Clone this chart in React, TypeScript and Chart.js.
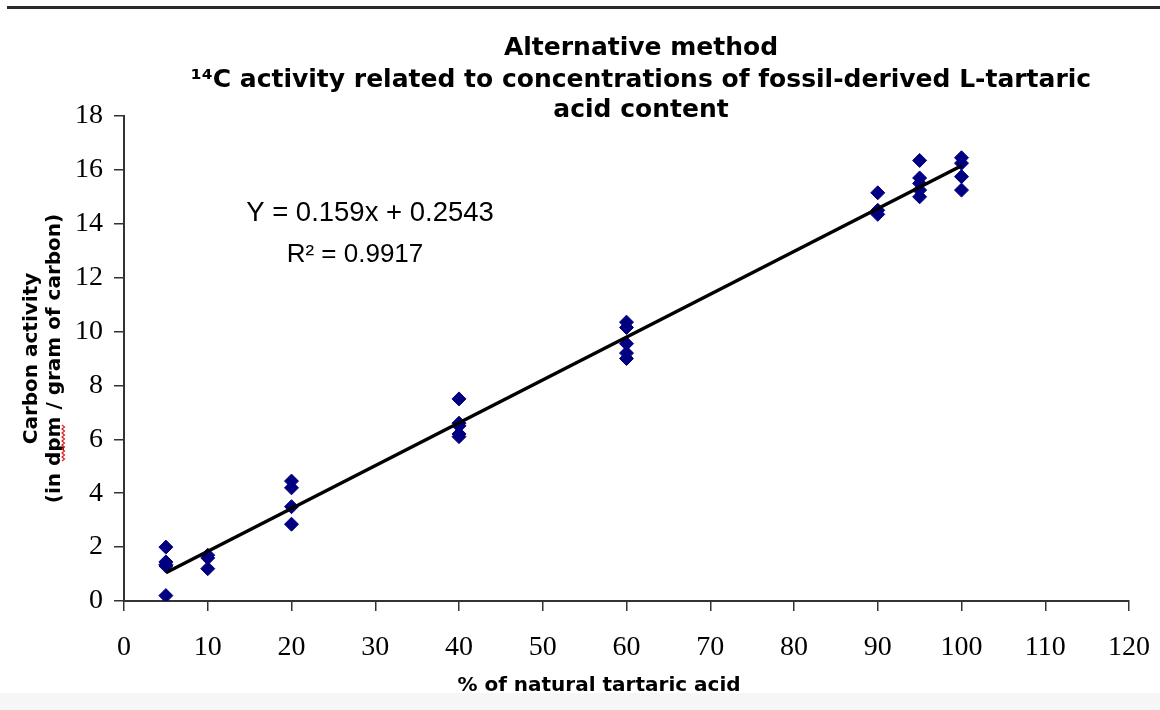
import React, { useEffect, useRef } from "react";
import { Chart, registerables } from "chart.js";

Chart.register(...registerables);

// ---- data ----
const xTickValues = [0, 10, 20, 30, 40, 50, 60, 70, 80, 90, 100, 110, 120];
const yTickValues = [0, 2, 4, 6, 8, 10, 12, 14, 16, 18];

const sampleX = [
  5, 5, 5, 5, 5,
  10, 10, 10,
  20, 20, 20, 20,
  40, 40, 40, 40, 40,
  60, 60, 60, 60, 60,
  90, 90, 90,
  95, 95, 95, 95, 95,
  100, 100, 100, 100,
];
const sampleY = [
  2.0, 1.45, 1.35, 1.3, 0.2,
  1.7, 1.6, 1.2,
  4.45, 4.2, 3.5, 2.85,
  7.5, 6.6, 6.5, 6.2, 6.1,
  10.35, 10.15, 9.55, 9.2, 9.0,
  15.15, 14.5, 14.35,
  16.35, 15.7, 15.5, 15.25, 15.0,
  16.45, 16.25, 15.75, 15.25,
];

const trendX = [5, 100];
const slope = 0.159;
const intercept = 0.2543;

const titleLines = [
  "Alternative method",
  "¹⁴C activity related to concentrations of fossil-derived L-tartaric",
  "acid content",
];
const equationText = "Y = 0.159x + 0.2543";
const r2Text = "R² = 0.9917";
const xTitle = "% of natural tartaric acid";
const yTitle = ["Carbon activity", "(in dpm / gram of carbon)"];

const textPlugin = {
  id: "textPlugin",
  afterDraw(chart: any) {
    const ctx = chart.ctx;
    ctx.save();
    ctx.fillStyle = "#000";
    ctx.textAlign = "center";
    ctx.textBaseline = "middle";
    ctx.font = "bold 25px 'DejaVu Sans'";
    const titleY = [48, 80, 110];
    titleLines.forEach((t, i) => ctx.fillText(t, 641, titleY[i]));

    ctx.font = "27.5px 'Liberation Sans'";
    ctx.fillText(equationText, 370, 213);
    ctx.font = "26px 'Liberation Sans'";
    ctx.fillText(r2Text, 355, 255);

    ctx.font = "bold 20px 'DejaVu Sans'";
    ctx.fillText(xTitle, 599, 686);

    // spell-check squiggle under "dpm" in the rotated axis title
    ctx.strokeStyle = "#e02020";
    ctx.lineWidth = 1.2;
    ctx.beginPath();
    let flip = false;
    ctx.moveTo(62, 461);
    for (let y = 459; y >= 425; y -= 2) {
      ctx.lineTo(flip ? 62 : 64.5, y);
      flip = !flip;
    }
    ctx.stroke();
    ctx.restore();
  },
};

export default function App() {
  const ref = useRef<HTMLCanvasElement>(null);

  useEffect(() => {
    if (!ref.current) return;
    const points = sampleX.map((x, i) => ({ x, y: sampleY[i] }));
    const trend = trendX.map((x) => ({ x, y: slope * x + intercept }));
    const chart = new Chart(ref.current, {
      type: "scatter",
      data: {
        datasets: [
          {
            label: "Trend",
            data: trend,
            showLine: true,
            borderColor: "#000",
            borderWidth: 3.5,
            pointRadius: 0,
            order: 0,
          },
          {
            label: "Samples",
            data: points,
            pointStyle: "rectRot",
            pointRadius: 7,
            backgroundColor: "#000080",
            borderColor: "#000080",
            borderWidth: 1,
            order: 1,
          },
        ],
      },
      options: {
        responsive: false,
        animation: false,
        devicePixelRatio: 1,
        layout: { padding: { left: 0, top: 116, right: 31, bottom: 0 } },
        plugins: {
          legend: { display: false },
          tooltip: { enabled: false },
          title: { display: false },
        },
        scales: {
          x: {
            type: "linear",
            min: 0,
            max: 120,
            afterBuildTicks: (s: any) => {
              s.ticks = xTickValues.map((v) => ({ value: v }));
            },
            afterFit: (s: any) => {
              s.height = 109;
              s.paddingLeft = 0;
              s.paddingRight = 0;
            },
            grid: {
              drawOnChartArea: false,
              drawTicks: true,
              tickLength: 10,
              color: "#333",
              lineWidth: 1.5,
            },
            border: { color: "#333", width: 2 },
            ticks: {
              color: "#000",
              font: { family: "'Liberation Serif'", size: 28 },
              padding: 20,
              maxRotation: 0,
            },
            title: { display: false },
          },
          y: {
            type: "linear",
            min: 0,
            max: 18,
            afterBuildTicks: (s: any) => {
              s.ticks = yTickValues.map((v) => ({ value: v }));
            },
            afterFit: (s: any) => {
              s.width = 124;
              s.paddingTop = 0;
              s.paddingBottom = 0;
            },
            grid: {
              drawOnChartArea: false,
              drawTicks: true,
              tickLength: 10,
              color: "#333",
              lineWidth: 1.5,
            },
            border: { color: "#333", width: 2 },
            ticks: {
              color: "#000",
              font: { family: "'Liberation Serif'", size: 28 },
              padding: 11,
            },
            title: {
              display: true,
              text: yTitle,
              color: "#000",
              font: { family: "'DejaVu Sans'", size: 20, weight: "bold", lineHeight: 1.15 },
              padding: { top: 20, bottom: 0 },
            },
          },
        },
      },
      plugins: [textPlugin],
    } as any);
    return () => chart.destroy();
  }, []);

  return (
    <div style={{ position: "absolute", left: 0, top: 0, width: 1160, height: 710, background: "#fff" }}>
      <div style={{ position: "absolute", left: 7, top: 6, width: 1153, height: 3, background: "#2a2a2a" }} />
      <div style={{ position: "absolute", left: 0, top: 693, width: 1160, height: 17, background: "#f6f6f6" }} />
      <canvas
        ref={ref}
        width={1160}
        height={710}
        style={{ position: "absolute", left: 0, top: 0, width: 1160, height: 710 }}
      />
    </div>
  );
}
